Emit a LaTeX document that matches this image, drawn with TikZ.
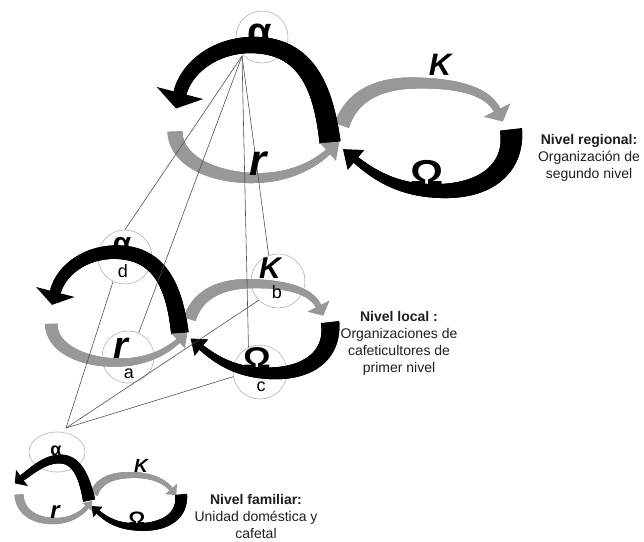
\documentclass[tikz,border=0pt]{standalone}
\usepackage{fontspec}
\setmainfont{Liberation Sans}
\usetikzlibrary{decorations.markings,shapes.geometric}

\definecolor{bandgray}{RGB}{152,152,152}
\definecolor{ringgray}{RGB}{178,178,178}
\definecolor{linegray}{RGB}{80,80,80}
\definecolor{labelink}{RGB}{30,30,30}

\tikzset{
  % tapered band: colour, start width, end width
  bandfill/.style n args={3}{postaction={decorate,decoration={markings,
    mark=between positions 0 and 1 step 0.5pt with {%
      \pgfmathsetmacro\bandhalf{0.5*((#2)+((#3)-(#2))*\pgfkeysvalueof{/pgf/decoration/mark info/distance from start}/\pgfdecoratedpathlength)}%
      \fill[#1] (-0.7pt,-\bandhalf pt) rectangle (0.7pt,\bandhalf pt);}}}},
  % arrow head at the end of a band: colour, length, half base
  bandhead/.style n args={3}{postaction={decorate,decoration={markings,
    mark=at position 1 with {\fill[#1] ({(#2)*1pt},0pt) -- (0pt,{(#3)*1pt}) -- (0pt,{-(#3)*1pt}) -- cycle;}}}},
  ring/.style={circle,draw=ringgray,line width=0.6pt,minimum size=#1,inner sep=0pt},
  link/.style={draw=linegray,line width=0.6pt},
  glyph/.style={inner sep=0pt,anchor=base,text=black,font=\fontsize{#1}{#1}\selectfont\bfseries},
  iglyph/.style={inner sep=0pt,anchor=base,text=black,font=\fontsize{#1}{#1}\selectfont\bfseries\itshape},
  tag/.style={inner sep=0pt,anchor=base,text=black,font=\fontsize{18}{18}\selectfont},
  levelnote/.style={inner sep=0pt,anchor=north,align=center,text=labelink,font=\fontsize{14}{17}\selectfont},
}
\newcommand\wideomega{\scalebox{1.15}[1]{Ω}}

% control points of one adaptive cycle, relative to its crossing point
\newcommand\cyclepoints[3]{%
  \begin{scope}[shift={#2},scale=#3]
    \coordinate (#1a0) at (-5,2);    \coordinate (#1a1) at (-12,-55);
    \coordinate (#1a2) at (-30,-95); \coordinate (#1a3) at (-83,-95);
    \coordinate (#1a4) at (-118,-95);\coordinate (#1a5) at (-148,-74);
    \coordinate (#1a6) at (-155,-47);
    \coordinate (#1r0) at (-160,-8); \coordinate (#1r1) at (-159,22);
    \coordinate (#1r2) at (-120,38); \coordinate (#1r3) at (-80,38);
    \coordinate (#1r4) at (-50,38);  \coordinate (#1r5) at (-25,28);
    \coordinate (#1r6) at (-7,12);
    \coordinate (#1k0) at (7,-15);   \coordinate (#1k1) at (17,-45);
    \coordinate (#1k2) at (45,-57);  \coordinate (#1k3) at (80,-57);
    \coordinate (#1k4) at (120,-57); \coordinate (#1k5) at (152,-50);
    \coordinate (#1k6) at (162,-30);
    \coordinate (#1o0) at (176,-10); \coordinate (#1o1) at (180,25);
    \coordinate (#1o2) at (155,51);  \coordinate (#1o3) at (105,51);
    \coordinate (#1o4) at (70,51);   \coordinate (#1o5) at (45,40);
    \coordinate (#1o6) at (21,20);
  \end{scope}}

% the four phases of one cycle, widths scaled by #2
\newcommand\cyclebands[2]{%
  \path[bandfill={bandgray}{15*#2}{7*#2},bandhead={bandgray}{13*#2}{15*#2}]
    (#1k0) .. controls (#1k1) and (#1k2) .. (#1k3) .. controls (#1k4) and (#1k5) .. (#1k6);
  \path[bandfill={black}{21*#2}{13*#2},bandhead={black}{16*#2}{24*#2}]
    (#1a0) .. controls (#1a1) and (#1a2) .. (#1a3) .. controls (#1a4) and (#1a5) .. (#1a6);
  \path[bandfill={black}{22*#2}{7*#2},bandhead={black}{17*#2}{13*#2}]
    (#1o0) .. controls (#1o1) and (#1o2) .. (#1o3) .. controls (#1o4) and (#1o5) .. (#1o6);
  \path[bandfill={bandgray}{15*#2}{6*#2},bandhead={bandgray}{15*#2}{12*#2}]
    (#1r0) .. controls (#1r1) and (#1r2) .. (#1r3) .. controls (#1r4) and (#1r5) .. (#1r6);
}

\begin{document}
\begin{tikzpicture}[x=1pt,y=-1pt]
\useasboundingbox (0,0) rectangle (644,541);

% rings round the phases
\node[ring=52pt] (ta) at (262,37) {};
\node[ring=54pt] (ad) at (125,257) {};
\node[ring=54pt] (kb) at (278,281) {};
\node[ring=52pt] (ra) at (128,357) {};
\node[ring=54pt] (oc) at (260,372) {};
\node[ellipse,draw=ringgray,line width=0.6pt,minimum width=56pt,minimum height=40pt,inner sep=0pt] (fa) at (57,452) {};

% regional and local cycles
\cyclepoints{T}{(335,140)}{1}
\cyclepoints{M}{(184,331)}{0.83}
\cyclebands{T}{1}
\cyclebands{M}{0.83}

% household cycle
\path[bandfill={bandgray}{8}{4},bandhead={bandgray}{8}{8}]
  (94,494) .. controls (99,480) and (113,475) .. (132,475) .. controls (152,475) and (164,481) .. (171,489);
\path[bandfill={black}{12}{6},bandhead={black}{9}{10}]
  (89,500) .. controls (84,475) and (76,459) .. (60,459) .. controls (45,459) and (33,470) .. (22,478);
\path[bandfill={black}{12}{4},bandhead={black}{9}{7}]
  (181,495) .. controls (183,516) and (165,527) .. (140,527) .. controls (120,527) and (108,521) .. (98,512);
\path[bandfill={bandgray}{9}{4},bandhead={bandgray}{8}{6}]
  (19,495) .. controls (20,512) and (35,521) .. (54,521) .. controls (70,521) and (81,514) .. (87,507);

% links between levels
\coordinate (tapex) at (242,56);
\coordinate (fapex) at (66,428);
\draw[link] (tapex) -- (ad.north);
\draw[link] (tapex) -- (ra.66);
\draw[link] (tapex) -- (oc.115);
\draw[link] (tapex) -- (kb.110);
\draw[link] (fapex) -- (ad.244);
\draw[link] (fapex) -- (kb.225);
\draw[link] (fapex) -- (oc.190);

% phase letters (placed on their baselines)
\node[glyph=40] (tal) at (260,45) {α};
\node[iglyph=31] (tk) at (440,75) {K};
\node[iglyph=44] (tr) at (258,175) {r};
\node[glyph=36] (to) at (427,185) {\wideomega};

\node[glyph=30] (mal) at (122,253) {α};
\node[tag] (md) at (123,277) {d};
\node[iglyph=30] (mk) at (270,278) {K};
\node[tag] (mb) at (277,298) {b};
\node[iglyph=38] (mr) at (121,358) {r};
\node[tag] (ma) at (129,378) {a};
\node[glyph=30] (mo) at (257,368) {\wideomega};
\node[tag] (mc) at (261,391) {c};

\node[glyph=18] (fal) at (56,455) {α};
\node[iglyph=19] (fk) at (141,472) {K};
\node[iglyph=24] (fr) at (55,518) {r};
\node[glyph=18] (fo) at (137,524) {\wideomega};

% level descriptions
\node[levelnote] (regional) at (589,134.5) {\textbf{Nivel regional:}\\Organización de\\segundo nivel};
\node[levelnote] (local) at (399,311.5) {\textbf{Nivel local :}\\Organizaciones de\\cafeticultores de\\primer nivel};
\node[levelnote] (familiar) at (256,494.5) {\textbf{Nivel familiar:}\\Unidad doméstica y\\cafetal};
\end{tikzpicture}
\end{document}
